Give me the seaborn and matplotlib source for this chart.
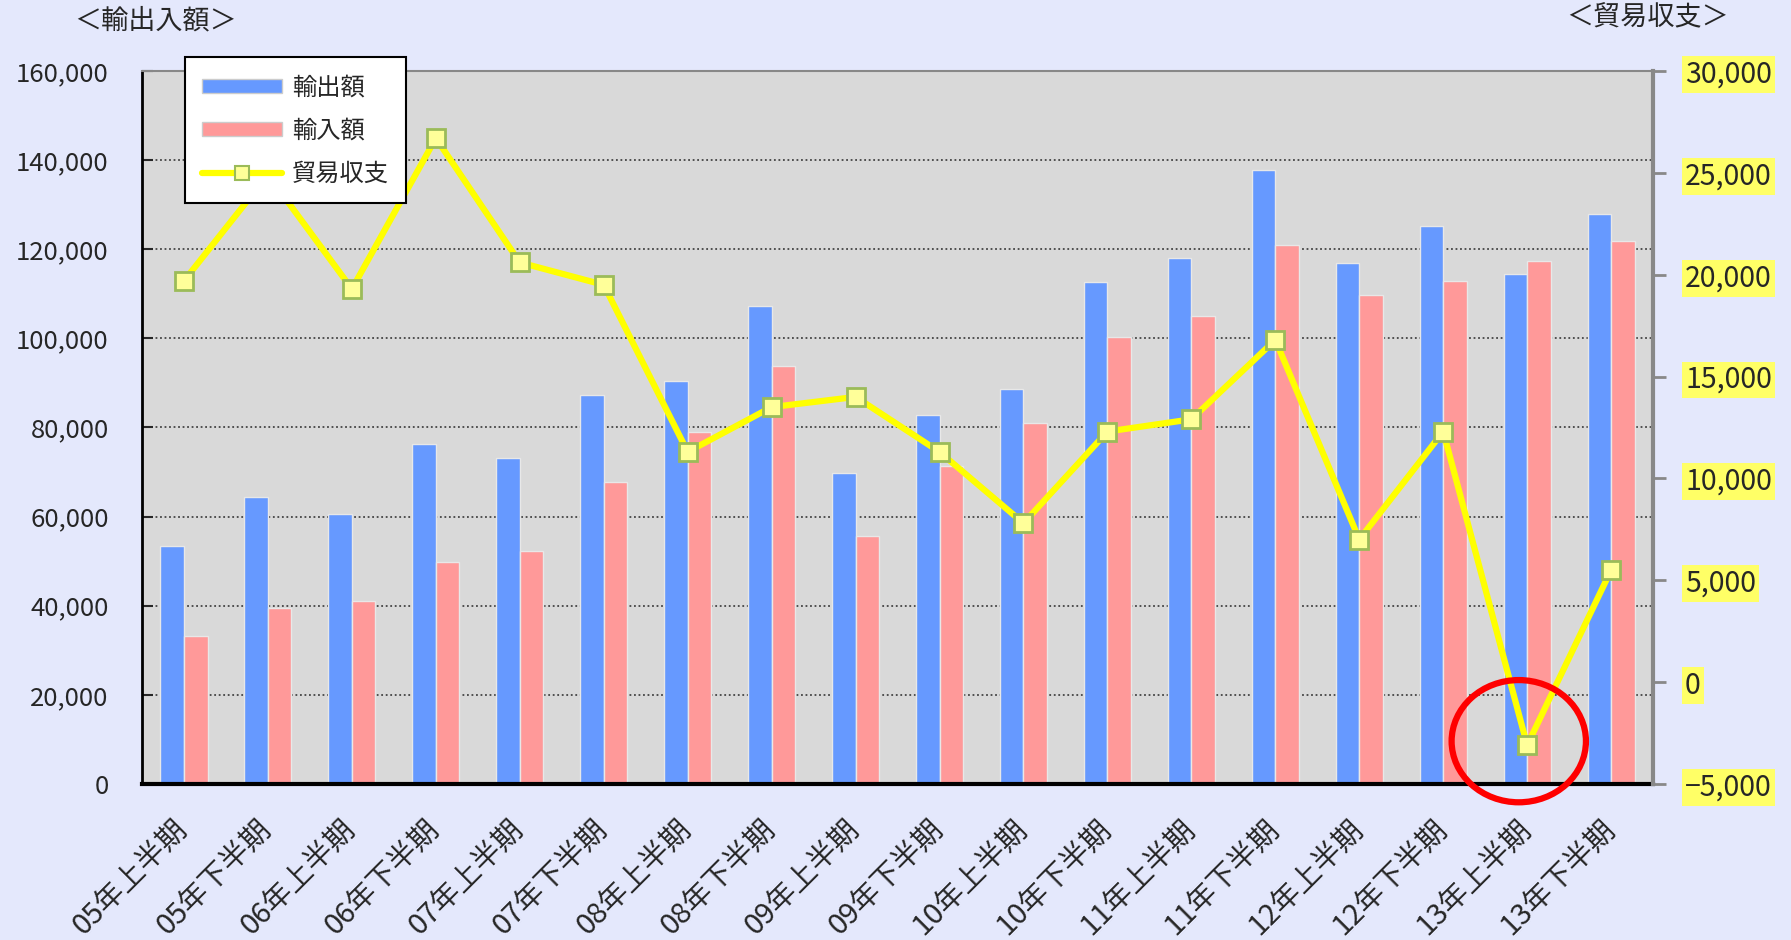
import matplotlib
matplotlib.use('Agg')
import matplotlib.pyplot as plt
import numpy as np
import pandas as pd
import seaborn as sns
from matplotlib.patches import Ellipse, Patch
from matplotlib.lines import Line2D

periods = ['05年上半期', '05年下半期', '06年上半期', '06年下半期', '07年上半期', '07年下半期',
           '08年上半期', '08年下半期', '09年上半期', '09年下半期', '10年上半期', '10年下半期',
           '11年上半期', '11年下半期', '12年上半期', '12年下半期', '13年上半期', '13年下半期']
exports = [53300, 64400, 60500, 76200, 73100, 87200, 90500, 107200, 69700,
           82800, 88700, 112600, 118000, 137700, 116900, 125100, 114400, 128000]
imports = [33300, 39500, 41000, 49700, 52300, 67700, 79000, 93800, 55600,
           71300, 81000, 100300, 105100, 121000, 109700, 112800, 117400, 121800]
balance = [19700, 24900, 19300, 26700, 20600, 19500, 11300, 13500, 14000,
           11300, 7800, 12300, 12900, 16800, 7000, 12300, -3100, 5500]

left_ticks = [0, 20000, 40000, 60000, 80000, 100000, 120000, 140000, 160000]
right_ticks = [-5000, 0, 5000, 10000, 15000, 20000, 25000, 30000]

sns.set_style('white')
plt.rcParams['font.family'] = ['Noto Sans CJK JP', 'DejaVu Sans']

df = pd.DataFrame({
    'period': periods * 2,
    'value': exports + imports,
    'kind': ['輸出額'] * len(periods) + ['輸入額'] * len(periods),
})

bg = '#e4e8fc'
fig = plt.figure(figsize=(17.91, 9.40), dpi=100, facecolor=bg)
ax = fig.add_axes([0.0793, 0.166, 0.8437, 0.7585])
ax.set_facecolor('#d9d9d9')

sns.barplot(data=df, x='period', y='value', hue='kind', palette=['#6699ff', '#ff9999'],
            saturation=1, width=0.56, edgecolor='#e8e8e8', linewidth=1, ax=ax, legend=False)

ax.set_xlim(-0.5, len(periods) - 0.5)
ax.set_ylim(0, 160000)
ax.set_yticks(left_ticks, labels=[f'{v:,}' for v in left_ticks], fontsize=18.5)
ax.yaxis.grid(True, linestyle=(0, (1, 1.5)), color='#444444', linewidth=1.3)
ax.set_axisbelow(True)
ax.tick_params(axis='y', direction='in', length=8, width=1.5, pad=24)
ax.set_xlabel('')
ax.set_ylabel('')
ax.set_xticks(range(len(periods)))
ax.set_xticklabels(periods, rotation=45, ha='right', va='center', rotation_mode='anchor', fontsize=21)
ax.tick_params(axis='x', which='major', length=0, pad=30)
ax.set_xticks(np.arange(0.5, len(periods) - 1, 1), minor=True)
ax.tick_params(axis='x', which='minor', direction='in', length=8, width=1.5, color='black')
ax.spines['left'].set_color('black')
ax.spines['left'].set_linewidth(2)
ax.spines['bottom'].set_color('black')
ax.spines['bottom'].set_linewidth(3)
ax.spines['top'].set_color('#888888')
ax.spines['top'].set_linewidth(1.5)
ax.spines['right'].set_visible(False)

ax2 = ax.twinx()
x_pos = np.arange(len(periods))
sns.lineplot(x=x_pos, y=balance, ax=ax2, color='#ffff00', linewidth=4.5, marker='s',
             markersize=13, markerfacecolor='#ffff99', markeredgecolor='#9bbb59',
             markeredgewidth=2, sort=False, errorbar=None, legend=False)
ax2.set_ylim(-5000, 30000)
ax2.set_yticks(right_ticks, labels=[f'{v:,}'.replace('-', '−') for v in right_ticks], fontsize=20.5)
ax2.tick_params(axis='y', direction='out', length=9, width=2, color='#888888', pad=14)
for lbl in ax2.get_yticklabels():
    lbl.set_bbox(dict(boxstyle='square,pad=0.12', fc='#ffff66', ec='none'))
for s in ['left', 'top', 'bottom']:
    ax2.spines[s].set_visible(False)
ax2.spines['right'].set_color('#888888')
ax2.spines['right'].set_linewidth(3)
ax2.set_ylabel('')

# red circle around the deficit point
idx = int(np.argmin(balance))
ax2.add_patch(Ellipse((idx - 0.1, balance[idx] + 200), width=1.6, height=6000,
                      fill=False, ec='red', lw=4.5, clip_on=False, zorder=6))

handles = [Patch(fc='#6699ff', ec='#cccccc'), Patch(fc='#ff9999', ec='#cccccc'),
           Line2D([], [], color='#ffff00', lw=4.5, marker='s', markersize=10,
                  markerfacecolor='#ffff99', markeredgecolor='#9bbb59', markeredgewidth=1.5)]
leg = ax2.legend(handles, ['輸出額', '輸入額', '貿易収支'], loc='upper left',
                 bbox_to_anchor=(0.1033, 0.939), bbox_transform=fig.transFigure,
                 fancybox=False, framealpha=1, edgecolor='black', fontsize=17.5,
                 borderpad=0.7, labelspacing=0.7, handlelength=3.3, handleheight=0.5,
                 handletextpad=0.4, borderaxespad=0)
leg.get_frame().set_linewidth(1.5)
leg.set_zorder(10)

fig.text(0.0867, 0.978, '＜輸出入額＞', ha='center', va='center', fontsize=19.5)
fig.text(0.920, 0.981, '＜貿易収支＞', ha='center', va='center', fontsize=19.5)

fig.savefig('out.png', dpi=100, facecolor=bg)
